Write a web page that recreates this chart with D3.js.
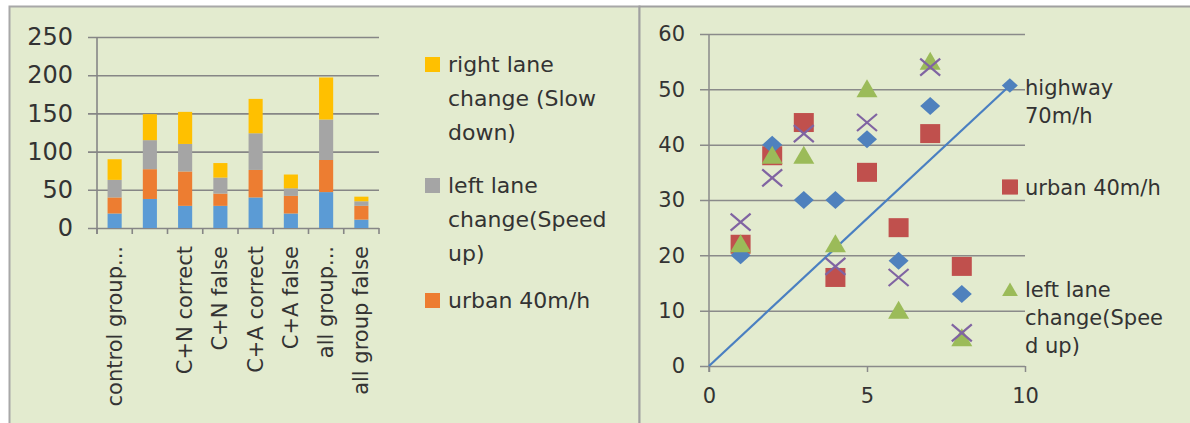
<!DOCTYPE html>
<html>
<head>
<meta charset="utf-8">
<script src="https://cdn.jsdelivr.net/npm/d3@7"></script>
<style>
  body { margin: 0; background: #fff; }
  text { font-family: 'DejaVu Sans', sans-serif; fill: #333; }
</style>
</head>
<body>
<div id="chart"></div>
<script>
// left: stacked bars
const categories = ['control group...', '', 'C+N correct', 'C+N false', 'C+A correct', 'C+A false', 'all group...', 'all group false'];
const urbanBlue = [19, 38, 29, 29, 40, 19, 47, 11];
const urbanOrange = [21, 39, 45, 16, 36, 23, 42, 18];
const leftLane = [23, 38, 36, 21, 48, 10, 53, 6];
const rightLane = [27, 34, 42, 19, 45, 18, 55, 6];
const barTicks = [0, 50, 100, 150, 200, 250];

// right: scatter
const scatterX = [1, 2, 3, 4, 5, 6, 7, 8];
const highway = [20, 40, 30, 30, 41, 19, 47, 13];
const urban = [22, 38, 44, 16, 35, 25, 42, 18];
const leftLaneSpeed = [22, 38, 38, 22, 50, 10, 55, 5];
const fourth = [26, 34, 42, 18, 44, 16, 54, 6];
const trendLine = [[0, 0], [9.52, 50.7]];
const scatterYTicks = [0, 10, 20, 30, 40, 50, 60];
const scatterXTicks = [0, 5, 10];

const width = 1190, height = 423;
const bg = '#e3ebcf';

const svg = d3.select('#chart').append('svg')
  .attr('width', width).attr('height', height);

svg.append('rect').attr('x', 9.5).attr('y', 6.5).attr('width', 630).attr('height', 430)
   .attr('fill', bg).attr('stroke', '#a8a8a8').attr('stroke-width', 2);
svg.append('rect').attr('x', 639.5).attr('y', 6.5).attr('width', 600).attr('height', 430)
   .attr('fill', bg).attr('stroke', '#a0a0a0').attr('stroke-width', 2);

// ---------- bar chart ----------
const stackKeys = ['blue', 'orange', 'gray', 'yellow'];
const colors = { blue: '#5b9bd5', orange: '#ed7d31', gray: '#a5a5a5', yellow: '#ffc000' };
const rows = categories.map((c, i) => ({
  i, blue: urbanBlue[i], orange: urbanOrange[i], gray: leftLane[i], yellow: rightLane[i]
}));
const stacked = d3.stack().keys(stackKeys)(rows);

const x = d3.scaleBand().domain(d3.range(categories.length)).range([97, 379]);
const y = d3.scaleLinear().domain([0, 250]).range([228, 37]);

const left = svg.append('g');
left.append('g')
    .attr('transform', 'translate(88,0)')
    .call(d3.axisLeft(y).tickValues(barTicks).tickSizeInner(-(379 - 88)).tickSizeOuter(0).tickPadding(15))
    .call(g => g.select('.domain').remove())
    .call(g => g.selectAll('line').attr('stroke', '#868686').attr('stroke-width', 1.6))
    .call(g => g.selectAll('text').attr('font-size', 24).attr('font-family', 'DejaVu Sans').attr('fill', '#333'));

left.append('line').attr('x1', 97).attr('x2', 97).attr('y1', y(250)).attr('y2', y(0) + 6)
    .attr('stroke', '#868686').attr('stroke-width', 1.6);
left.selectAll('.xtick').data(d3.range(categories.length + 1)).enter()
    .append('line')
    .attr('x1', d => d === categories.length ? x.range()[1] : x(d))
    .attr('x2', d => d === categories.length ? x.range()[1] : x(d))
    .attr('y1', y(0)).attr('y2', y(0) + 6)
    .attr('stroke', '#868686').attr('stroke-width', 1.6);

left.selectAll('.layer').data(stacked).enter()
    .append('g').attr('fill', d => colors[d.key])
    .selectAll('rect').data(d => d).enter()
    .append('rect')
    .attr('x', d => x(d.data.i) + x.bandwidth() * 0.3)
    .attr('width', x.bandwidth() * 0.4)
    .attr('y', d => y(d[1]))
    .attr('height', d => y(d[0]) - y(d[1]));

left.selectAll('.xlabel').data(categories).enter()
    .append('text')
    .attr('transform', (d, i) => `translate(${x(i) + x.bandwidth() / 2 + 7}, 246) rotate(-90)`)
    .attr('text-anchor', 'end')
    .attr('font-size', 21)
    .text(d => d);

// legend
const barLegend = [
  { color: colors.yellow, y: 57, lines: ['right lane', 'change (Slow', 'down)'] },
  { color: colors.gray, y: 178, lines: ['left lane', 'change(Speed', 'up)'] },
  { color: colors.orange, y: 293, lines: ['urban 40m/h'] }
];
const bl = left.selectAll('.bleg').data(barLegend).enter().append('g');
bl.append('rect').attr('x', 425).attr('y', d => d.y).attr('width', 15).attr('height', 15)
  .attr('fill', d => d.color);
bl.append('text').attr('x', 448).attr('y', d => d.y + 15).attr('font-size', 22)
  .selectAll('tspan').data(d => d.lines).enter()
  .append('tspan').attr('x', 448).attr('dy', (d, i) => i === 0 ? 0 : 34).text(d => d);

// ---------- scatter ----------
const sx = d3.scaleLinear().domain([0, 10]).range([709, 1025]);
const sy = d3.scaleLinear().domain([0, 60]).range([366, 34]);
const right = svg.append('g');

right.append('g')
     .attr('transform', 'translate(700,0)')
     .call(d3.axisLeft(sy).tickValues(scatterYTicks).tickSizeInner(-(1025 - 700)).tickSizeOuter(0).tickPadding(15))
     .call(g => g.select('.domain').remove())
     .call(g => g.selectAll('line').attr('stroke', '#8a8a8a').attr('stroke-width', 1.5))
     .call(g => g.selectAll('text').attr('font-size', 21).attr('font-family', 'DejaVu Sans').attr('fill', '#333'));

right.append('g')
     .attr('transform', `translate(0,${sy(0)})`)
     .call(d3.axisBottom(sx).tickValues(scatterXTicks).tickSizeInner(6).tickSizeOuter(0).tickPadding(16))
     .call(g => g.select('.domain').remove())
     .call(g => g.selectAll('line').attr('stroke', '#8a8a8a').attr('stroke-width', 1.5))
     .call(g => g.selectAll('text').attr('font-size', 21).attr('font-family', 'DejaVu Sans').attr('fill', '#333'));

right.append('line').attr('x1', sx(0)).attr('x2', sx(0)).attr('y1', sy(60)).attr('y2', sy(0) + 6)
     .attr('stroke', '#8a8a8a').attr('stroke-width', 1.5);

right.append('path')
     .datum(trendLine)
     .attr('d', d3.line().x(d => sx(d[0])).y(d => sy(d[1])))
     .attr('fill', 'none').attr('stroke', '#4a7fc1').attr('stroke-width', 2.2);

const markers = {
  diamond: 'M0,-9L10,0L0,9L-10,0Z',
  square: 'M-10,-9.5H10V9.5H-10Z',
  triangle: 'M0,-10L10.5,8H-10.5Z',
  cross: 'M-10,-8.5L10,8.5M-10,8.5L10,-8.5'
};
const series = [
  { name: 'urban', values: urban, shape: 'square', color: '#c0504d' },
  { name: 'highway', values: highway, shape: 'diamond', color: '#4f81bd' },
  { name: 'left', values: leftLaneSpeed, shape: 'triangle', color: '#9bbb59' },
  { name: 'fourth', values: fourth, shape: 'cross', color: '#8064a2' }
];

series.forEach(s => {
  right.selectAll('.m-' + s.name)
       .data(s.values).enter()
       .append('path')
       .attr('transform', (d, i) => `translate(${sx(scatterX[i])},${sy(d)})`)
       .attr('d', markers[s.shape])
       .attr('fill', s.shape === 'cross' ? 'none' : s.color)
       .attr('stroke', s.shape === 'cross' ? s.color : 'none')
       .attr('stroke-width', 2.2);
});

// legend (partly over the plot)
const end = trendLine[1];
const scatterLegend = [
  { shape: 'diamond', color: '#4f81bd', cx: sx(end[0]), cy: sy(end[1]), scale: 0.8, ty: 95, lines: ['highway', '70m/h'] },
  { shape: 'square', color: '#c0504d', cx: 1010, cy: 187, scale: 0.8, ty: 195, lines: ['urban 40m/h'] },
  { shape: 'triangle', color: '#9bbb59', cx: 1010, cy: 290, scale: 0.75, ty: 297, lines: ['left lane', 'change(Spee', 'd up)'] }
];
const sl = right.selectAll('.sleg').data(scatterLegend).enter().append('g');
sl.append('path')
  .attr('transform', d => `translate(${d.cx},${d.cy}) scale(${d.scale})`)
  .attr('d', d => markers[d.shape])
  .attr('fill', d => d.color);
sl.append('text').attr('x', 1025).attr('y', d => d.ty).attr('font-size', 21)
  .selectAll('tspan').data(d => d.lines).enter()
  .append('tspan').attr('x', 1025).attr('dy', (d, i) => i === 0 ? 0 : 28).text(d => d);
</script>
</body>
</html>
